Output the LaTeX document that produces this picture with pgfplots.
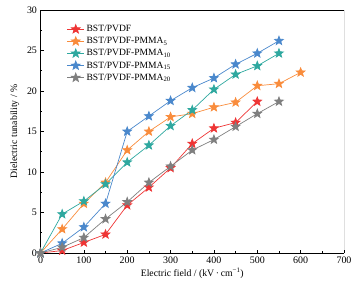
\documentclass[border=0pt]{standalone}
\usepackage{pgfplots}
\pgfplotsset{compat=1.18}
\usepackage{fontspec}
\setmainfont{Liberation Serif}
\definecolor{cred}{HTML}{EE3535}
\definecolor{corange}{HTML}{F98C3C}
\definecolor{cteal}{HTML}{2EA89F}
\definecolor{cblue}{HTML}{4A88CC}
\definecolor{cgray}{HTML}{7F7F7F}
\pgfdeclareplotmark{fstar}{%
 \pgfpathmoveto{\pgfpointpolar{90}{\pgfplotmarksize}}%
 \pgfpathlineto{\pgfpointpolar{126}{0.42\pgfplotmarksize}}%
 \pgfpathlineto{\pgfpointpolar{162}{\pgfplotmarksize}}%
 \pgfpathlineto{\pgfpointpolar{198}{0.42\pgfplotmarksize}}%
 \pgfpathlineto{\pgfpointpolar{234}{\pgfplotmarksize}}%
 \pgfpathlineto{\pgfpointpolar{270}{0.42\pgfplotmarksize}}%
 \pgfpathlineto{\pgfpointpolar{306}{\pgfplotmarksize}}%
 \pgfpathlineto{\pgfpointpolar{342}{0.42\pgfplotmarksize}}%
 \pgfpathlineto{\pgfpointpolar{18}{\pgfplotmarksize}}%
 \pgfpathlineto{\pgfpointpolar{54}{0.42\pgfplotmarksize}}%
 \pgfpathclose
 \pgfusepathqfillstroke}
\begin{document}
\begin{tikzpicture}
\begin{axis}[
  at={(0,0)}, anchor=south west,
  scale only axis, width=303.5bp, height=243bp,
  xmin=0, xmax=700, ymin=0, ymax=30,
  xtick={0,100,...,700}, ytick={0,5,...,30},
  minor x tick num=1, minor y tick num=1,
  tick align=inside, axis x line*=bottom, axis y line*=left,
  axis line style={line width=0.8pt},
  major tick length=3.5bp, minor tick length=2bp,
  tick style={black, line width=0.6pt},
  /pgf/number format/assume math mode=true,
  ticklabel style={font=\fontsize{10}{12}\selectfont},
  xlabel={Electric field / (kV\,·\,cm\textsuperscript{−1})},
  ylabel={Dielectric tunability / \%},
  label style={font=\fontsize{9.8}{12}\selectfont},
  xlabel style={yshift=2bp},
  ylabel style={yshift=1bp},
  legend style={at={(0.083,0.95)}, anchor=north west, draw=none, fill=none,
    font=\fontsize{9.6}{11}\selectfont, row sep=0.3pt, inner sep=1pt},
  legend cell align=left,
  every axis plot/.append style={line width=0.7pt, mark=fstar, mark size=4.6bp,
    mark options={solid, line width=0.3pt}},
]
\draw[line width=0.8pt] (rel axis cs:0,1) -- (rel axis cs:1,1) -- (rel axis cs:1,0);
\addplot[cred, mark options={fill=cred}] coordinates {
(0,0) (50,0.3) (100,1.3) (150,2.3) (200,5.9) (250,8.1) (300,10.5) (350,13.5) (400,15.4) (450,16.1) (500,18.7)};
\addlegendentry{BST/PVDF}
\addplot[corange, mark options={fill=corange}] coordinates {
(0,0) (50,2.95) (100,6.1) (150,8.7) (200,12.7) (250,15.0) (300,16.8) (350,17.2) (400,18.0) (450,18.6) (500,20.65) (550,20.9) (600,22.3)};
\addlegendentry{BST/PVDF-PMMA\textsubscript{5}}
\addplot[cteal, mark options={fill=cteal}] coordinates {
(0,0) (50,4.8) (100,6.4) (150,8.5) (200,11.2) (250,13.3) (300,15.7) (350,17.65) (400,20.2) (450,22.05) (500,23.1) (550,24.65)};
\addlegendentry{BST/PVDF-PMMA\textsubscript{10}}
\addplot[cblue, mark options={fill=cblue}] coordinates {
(0,0) (50,1.2) (100,3.2) (150,6.1) (200,15.0) (250,16.9) (300,18.8) (350,20.4) (400,21.6) (450,23.3) (500,24.65) (550,26.2)};
\addlegendentry{BST/PVDF-PMMA\textsubscript{15}}
\addplot[cgray, mark options={fill=cgray}] coordinates {
(0,0) (50,0.7) (100,1.9) (150,4.2) (200,6.3) (250,8.7) (300,10.7) (350,12.7) (400,14.0) (450,15.6) (500,17.2) (550,18.7)};
\addlegendentry{BST/PVDF-PMMA\textsubscript{20}}
\end{axis}
\pgfresetboundingbox
\path (-40.5bp,-35bp) rectangle (319.5bp,253bp);
\end{tikzpicture}
\end{document}
